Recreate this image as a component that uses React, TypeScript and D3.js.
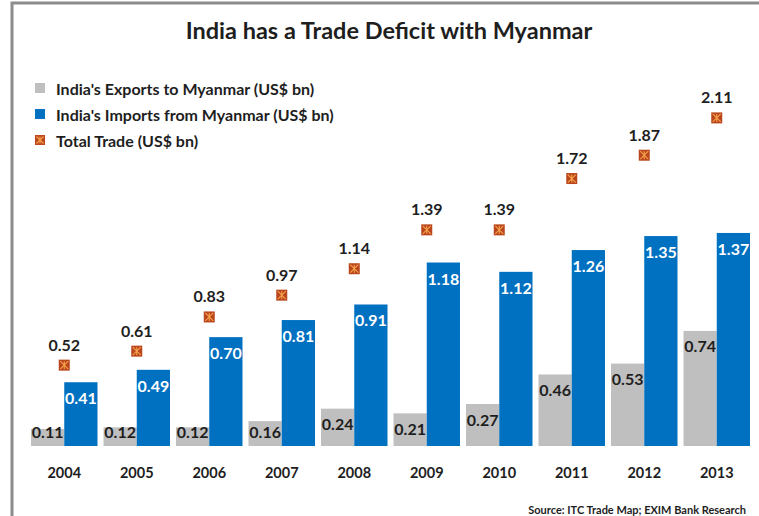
import React from "react";
import * as d3 from "d3";

const years = ["2004", "2005", "2006", "2007", "2008", "2009", "2010", "2011", "2012", "2013"];
const exportsToMyanmar = [0.11, 0.12, 0.12, 0.16, 0.24, 0.21, 0.27, 0.46, 0.53, 0.74];
const importsFromMyanmar = [0.41, 0.49, 0.7, 0.81, 0.91, 1.18, 1.12, 1.26, 1.35, 1.37];
const totalTrade = [0.52, 0.61, 0.83, 0.97, 1.14, 1.39, 1.39, 1.72, 1.87, 2.11];

const legendItems = [
  "India's Exports to Myanmar (US$ bn)",
  "India's Imports from Myanmar (US$ bn)",
  "Total Trade (US$ bn)",
];

const W = 759;
const H = 516;
const FONT = "Lato, 'Open Sans', sans-serif";
const GREY = "#bfbfbf";
const BLUE = "#0070c0";
const TEXT = "#1e1e1e";

// star marker like the excel one: dark orange square with a light star on top
const StarMarker = ({ cx, cy, size }: { cx: number; cy: number; size: number }) => {
  const h = size / 2;
  const k = h - 1.5;
  return (
    <g transform={`translate(${cx},${cy})`}>
      <rect x={-h} y={-h} width={size} height={size} fill="#b9461c" />
      <path
        d={`M${-k},${-k}L${k},${k}M${-k},${k}L${k},${-k}M0,${-k}L0,${k}`}
        stroke="#f6a24c"
        strokeWidth={1.1}
      />
    </g>
  );
};

export default function App() {
  const baseline = 446;
  const x = d3.scaleBand<string>().domain(years).range([28, 753]).padding(0);
  const y = d3.scaleLinear().domain([0, 2.5]).range([baseline, baseline - 2.5 * 155.5]);

  const gap = 3;
  const barW = (x.bandwidth() - 2 * gap) / 2;
  const fmt = d3.format(".2f");

  return (
    <svg width={W} height={H} style={{ position: "absolute", left: 0, top: 0 }} fontFamily={FONT}>
      <rect width={W} height={H} fill="#fff" />
      {/* frame */}
      <path d={`M12,${H}V3H${W}`} fill="none" stroke="#8c8c8c" strokeWidth={3} />

      <text x={389} y={30} textAnchor="middle" dominantBaseline="central" fontSize={23.5} fontWeight={700} fill={TEXT}>
        India has a Trade Deficit with Myanmar
      </text>

      {/* legend */}
      {legendItems.map((label, i) => {
        const ly = 88 + i * 26;
        return (
          <g key={label}>
            {i === 0 && <rect x={35} y={ly - 5} width={10} height={10} fill={GREY} />}
            {i === 1 && <rect x={35} y={ly - 5} width={10} height={10} fill={BLUE} />}
            {i === 2 && <StarMarker cx={40} cy={ly} size={10} />}
            <text x={56} y={ly} dominantBaseline="central" fontSize={16} fontWeight={700} fill={TEXT}>
              {label}
            </text>
          </g>
        );
      })}

      {/* bars */}
      {years.map((yr, i) => {
        const x0 = x(yr)!;
        const eTop = y(exportsToMyanmar[i]);
        const iTop = y(importsFromMyanmar[i]);
        const eLabelY = Math.min(eTop + 15, baseline - 15);
        return (
          <g key={yr}>
            <rect x={x0 + gap} y={eTop} width={barW} height={baseline - eTop} fill={GREY} />
            <rect x={x0 + gap + barW} y={iTop} width={barW} height={baseline - iTop} fill={BLUE} />
            <text
              x={x0 + gap + barW / 2}
              y={eLabelY}
              textAnchor="middle"
              dominantBaseline="central"
              fontSize={16}
              fontWeight={700}
              fill={TEXT}
            >
              {fmt(exportsToMyanmar[i])}
            </text>
            <text
              x={x0 + gap + barW * 1.5}
              y={iTop + 15.5}
              textAnchor="middle"
              dominantBaseline="central"
              fontSize={16}
              fontWeight={700}
              fill="#fff"
            >
              {fmt(importsFromMyanmar[i])}
            </text>
            <StarMarker cx={x0 + x.bandwidth() / 2} cy={y(totalTrade[i])} size={11} />
            <text
              x={x0 + x.bandwidth() / 2}
              y={y(totalTrade[i]) - 21}
              textAnchor="middle"
              dominantBaseline="central"
              fontSize={16}
              fontWeight={700}
              fill={TEXT}
            >
              {fmt(totalTrade[i])}
            </text>
            <text
              x={x0 + x.bandwidth() / 2}
              y={472}
              textAnchor="middle"
              dominantBaseline="central"
              fontSize={14.5}
              fontWeight={700}
              fill={TEXT}
            >
              {yr}
            </text>
          </g>
        );
      })}

      <text x={746} y={509} textAnchor="end" dominantBaseline="central" fontSize={11} fontWeight={700} fill={TEXT}>
        Source: ITC Trade Map; EXIM Bank Research
      </text>
    </svg>
  );
}
